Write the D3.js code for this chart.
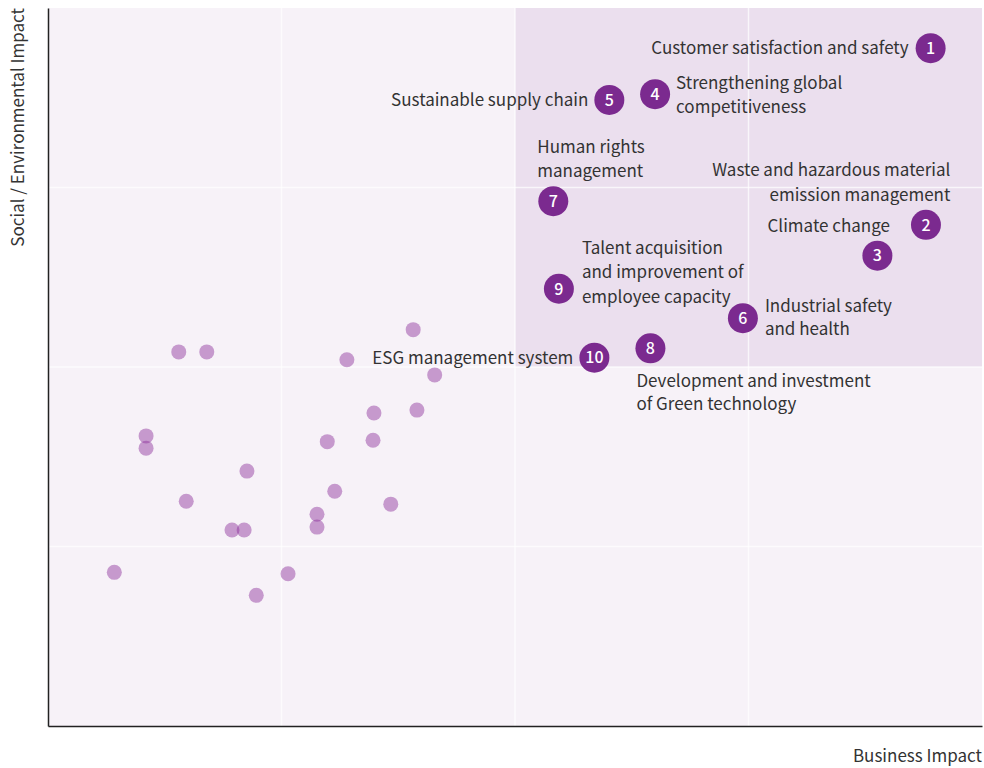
<!DOCTYPE html>
<html>
<head>
<meta charset="utf-8">
<script src="https://cdn.jsdelivr.net/npm/d3@7"></script>
<style>
  body { margin: 0; background: #fff; }
  text { font-family: "Noto Sans CJK KR", "Noto Sans", sans-serif; }
</style>
</head>
<body>
<div id="chart"></div>
<script>
// Unlabelled issues (business impact, social/environmental impact)
var otherX = [39.1, 14.0, 17.0, 32.0, 41.4, 34.9, 39.5, 10.5, 10.5, 29.9, 34.8,
              21.3, 30.7, 14.8, 36.7, 28.8, 28.8, 19.7, 21.0, 7.1, 25.7, 22.3];
var otherY = [55.2, 52.1, 52.1, 51.0, 48.9, 43.6, 44.0, 40.4, 38.7, 39.6, 39.8,
              35.5, 32.7, 31.3, 30.9, 29.5, 27.7, 27.3, 27.3, 21.4, 21.2, 18.2];

// Material issues, ranked 1-10
var rankIds = [1, 2, 3, 4, 5, 6, 7, 8, 9, 10];
var rankX = [94.5, 94.0, 88.8, 65.0, 60.1, 74.4, 54.1, 64.5, 54.7, 58.5];
var rankY = [94.4, 69.8, 65.5, 88.0, 87.2, 56.8, 73.1, 52.6, 60.9, 51.3];
var rankNames = [
  ["Customer satisfaction and safety"],
  ["Climate change"],
  ["Waste and hazardous material", "emission management"],
  ["Strengthening global", "competitiveness"],
  ["Sustainable supply chain"],
  ["Industrial safety", "and health"],
  ["Human rights", "management"],
  ["Development and investment", "of Green technology"],
  ["Talent acquisition", "and improvement of", "employee capacity"],
  ["ESG management system"]
];

var gridTicks = [25, 50, 75];

// label placement relative to each circle (layout only)
var labelPos = {
  1: {anchor: "end", dx: -22, dy: [0]},
  2: {anchor: "end", dx: -36, dy: [1]},
  3: {anchor: "end", dx: 73, dy: [-86, -61]},
  4: {anchor: "start", dx: 21, dy: [-11, 13]},
  5: {anchor: "end", dx: -21, dy: [0]},
  6: {anchor: "start", dx: 22, dy: [-12, 11]},
  7: {anchor: "start", dx: -16, dy: [-54, -30]},
  8: {anchor: "start", dx: -14, dy: [33, 56]},
  9: {anchor: "start", dx: 23, dy: [-41, -17, 8]},
  10: {anchor: "end", dx: -21, dy: [0]}
};

var margin = {top: 8, right: 2, bottom: 42, left: 48};
var W = 984, H = 768;
var width = W - margin.left - margin.right;
var height = H - margin.top - margin.bottom;

var xScale = d3.scaleLinear().domain([0, 100]).range([0, width]);
var yScale = d3.scaleLinear().domain([0, 100]).range([height, 0]);

var svg = d3.select("#chart").append("svg")
    .attr("width", W).attr("height", H);
var g = svg.append("g")
    .attr("transform", "translate(" + margin.left + "," + margin.top + ")");

// background + highlighted quadrant
g.append("rect").attr("width", width).attr("height", height).attr("fill", "#f7f2f8");
g.append("rect")
    .attr("x", xScale(50)).attr("y", yScale(100))
    .attr("width", xScale(100) - xScale(50))
    .attr("height", yScale(50) - yScale(100))
    .attr("fill", "#ebdfee");

// grid
g.selectAll(".vgrid").data(gridTicks).enter().append("line")
    .attr("x1", xScale).attr("x2", xScale)
    .attr("y1", 0).attr("y2", height)
    .attr("stroke", "#ffffff").attr("stroke-opacity", 0.7).attr("stroke-width", 1.5);
g.selectAll(".hgrid").data(gridTicks).enter().append("line")
    .attr("y1", yScale).attr("y2", yScale)
    .attr("x1", 0).attr("x2", width)
    .attr("stroke", "#ffffff").attr("stroke-opacity", 0.7).attr("stroke-width", 1.5);

// axes (lines only)
g.append("g").attr("transform", "translate(0," + height + ")")
    .call(d3.axisBottom(xScale).ticks(0).tickSizeOuter(0))
    .select(".domain").attr("stroke", "#222").attr("stroke-width", 1.5);
g.append("g")
    .call(d3.axisLeft(yScale).ticks(0).tickSizeOuter(0))
    .select(".domain").attr("stroke", "#222").attr("stroke-width", 1.5);

// other issues
var others = otherX.map(function(v, i) { return {x: v, y: otherY[i]}; });
g.selectAll(".dot").data(others).enter().append("circle")
    .attr("class", "dot")
    .attr("cx", function(d) { return xScale(d.x); })
    .attr("cy", function(d) { return yScale(d.y); })
    .attr("r", 7.5)
    .attr("fill", "#8a2d98")
    .attr("fill-opacity", 0.45);

// ranked issues
var ranked = rankIds.map(function(id, i) {
  return {id: id, x: rankX[i], y: rankY[i], lines: rankNames[i]};
});

var labels = g.selectAll(".label").data(ranked).enter().append("text")
    .attr("class", "label")
    .attr("font-size", 17)
    .attr("fill", "#333")
    .attr("text-anchor", function(d) { return labelPos[d.id].anchor; });
labels.each(function(d) {
  var p = labelPos[d.id];
  var t = d3.select(this);
  d.lines.forEach(function(line, j) {
    t.append("tspan")
      .attr("x", xScale(d.x) + p.dx)
      .attr("y", yScale(d.y) + p.dy[j])
      .attr("dy", "0.35em")
      .text(line);
  });
});

var node = g.selectAll(".rank").data(ranked).enter().append("g")
    .attr("class", "rank")
    .attr("transform", function(d) { return "translate(" + xScale(d.x) + "," + yScale(d.y) + ")"; });
node.append("circle").attr("r", 15).attr("fill", "#7b2a8f");
node.append("text")
    .attr("text-anchor", "middle").attr("dy", "0.36em")
    .attr("fill", "#fff").attr("font-size", 16).attr("font-weight", 500)
    .text(function(d) { return d.id; });

// axis titles
svg.append("text")
    .attr("transform", "translate(24," + margin.top + ") rotate(-90)")
    .attr("text-anchor", "end")
    .attr("font-size", 17).attr("fill", "#333")
    .text("Social / Environmental Impact");
svg.append("text")
    .attr("x", W - margin.right).attr("y", 762)
    .attr("text-anchor", "end")
    .attr("font-size", 17).attr("fill", "#333")
    .text("Business Impact");
</script>
</body>
</html>
